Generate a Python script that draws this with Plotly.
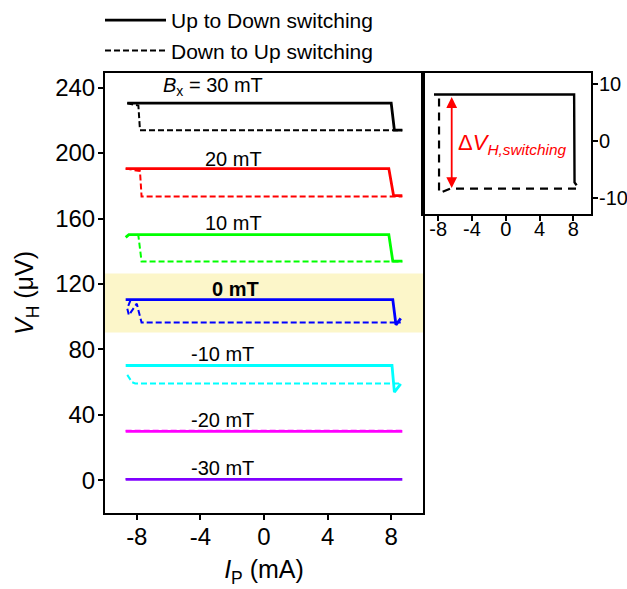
import plotly.graph_objects as go

W, H = 627, 589

# ---------------- data ----------------
fields = ["30", "20", "10", "0", "-10", "-20", "-30"]
colors = ["#000000", "#FF0000", "#00FF00", "#0000FF", "#00FFFF", "#FF00FF", "#8000FF"]

# Up-to-Down switching (solid)
solid_x = {
    "30": [-8.6, 8.0, 8.2, 8.7],
    "20": [-8.7, 7.85, 8.15, 8.7],
    "10": [-8.7, -8.5, 7.85, 8.1, 8.7],
    "0": [-8.7, 8.1, 8.3, 8.6],
    "-10": [-8.7, 8.05, 8.2, 8.6],
    "-20": [-8.7, 8.7],
    "-30": [-8.7, 8.7],
}
solid_y = {
    "30": [230.5, 230.5, 214.0, 214.0],
    "20": [190.5, 190.5, 174.0, 174.0],
    "10": [148.5, 150.2, 150.2, 134.0, 134.0],
    "0": [110.5, 110.5, 95.0, 99.0],
    "-10": [70.2, 70.2, 54.0, 59.0],
    "-20": [30.0, 30.0],
    "-30": [0.6, 0.6],
}
# Down-to-Up switching (dashed)
dash_x = {
    "30": [-8.6, -7.9, -7.8, 8.7],
    "20": [-8.7, -7.8, -7.7, 8.7],
    "10": [-8.0, -7.9, -7.7, 8.7],
    "0": [-8.4, -8.6, -8.5, -8.0, -7.9, -7.7, 8.6],
    "-10": [-8.6, -8.3, -8.1, 8.6],
    "-20": [-8.7, 8.7],
    "-30": [-8.7, 8.7],
}
dash_y = {
    "30": [230.5, 229.0, 214.0, 214.0],
    "20": [190.5, 189.0, 173.5, 173.5],
    "10": [150.2, 149.5, 133.7, 133.7],
    "0": [110.0, 105.0, 101.0, 108.0, 104.0, 96.5, 96.5],
    "-10": [64.5, 60.0, 59.2, 59.2],
    "-20": [30.3, 30.3],
    "-30": [0.8, 0.8],
}
label_text = {
    "30": "<i>B</i><sub>x</sub> = 30 mT",
    "20": "20 mT",
    "10": "10 mT",
    "0": "<b>0 mT</b>",
    "-10": "-10 mT",
    "-20": "-20 mT",
    "-30": "-30 mT",
}
label_x = {"30": -3.2, "20": -1.95, "10": -1.95, "0": -1.8, "-10": -2.6, "-20": -2.6, "-30": -2.6}
label_y = {"30": 240.5, "20": 196.6, "10": 157.0, "0": 117.0, "-10": 77.0, "-20": 36.6, "-30": 7.3}

highlight_band = [90.4, 126.4]

# inset (single 30 mT loop, zoomed)
inset_solid_x = [-8.5, 8.1, 8.15, 8.4]
inset_solid_y = [8.2, 8.2, -7.3, -7.8]
inset_dash_x = [-7.9, -7.9, -7.7, -6.6, 8.6]
inset_dash_y = [7.5, -9.1, -9.1, -8.4, -8.4]
arrow_x = -6.4
arrow_y = [8.0, -8.3]

main_xticks = [-8, -4, 0, 4, 8]
main_xticklabels = ["-8", "-4", "0", "4", "8"]
main_yticks = [0, 40, 80, 120, 160, 200, 240]
main_yticklabels = ["0", "40", "80", "120", "160", "200", "240"]
inset_xticks = [-8, -4, 0, 4, 8]
inset_xticklabels = ["-8", "-4", "0", "4", "8"]
inset_yticks = [-10, 0, 10]
inset_yticklabels = ["-10", "0", "10"]

FONT = "Arial, Liberation Sans, sans-serif"

fig = go.Figure()

for f, c in zip(fields, colors):
    fig.add_trace(go.Scatter(
        x=solid_x[f], y=solid_y[f], mode="lines",
        line=dict(color=c, width=2.8),
        name="Up to Down switching", legendgroup="a",
        showlegend=(f == "30"), xaxis="x", yaxis="y"))
    fig.add_trace(go.Scatter(
        x=dash_x[f], y=dash_y[f], mode="lines",
        line=dict(color=c, width=2.0, dash="6px,3px"),
        name="Down to Up switching", legendgroup="b",
        showlegend=(f == "30"), xaxis="x", yaxis="y"))

fig.add_trace(go.Scatter(x=inset_solid_x, y=inset_solid_y, mode="lines",
                         line=dict(color="black", width=2.4), showlegend=False,
                         xaxis="x2", yaxis="y2"))
fig.add_trace(go.Scatter(x=inset_dash_x, y=inset_dash_y, mode="lines",
                         line=dict(color="black", width=2.2, dash="8px,6px"), showlegend=False,
                         xaxis="x2", yaxis="y2"))

annotations = []
for f in fields:
    annotations.append(dict(x=label_x[f], y=label_y[f], xref="x", yref="y",
                            text=label_text[f], showarrow=False,
                            font=dict(size=20, color="black", family=FONT)))
# double-headed red arrow in the inset
annotations.append(dict(x=arrow_x, y=arrow_y[1], ax=arrow_x, ay=arrow_y[0],
                        xref="x2", yref="y2", axref="x2", ayref="y2",
                        text="", showarrow=True, arrowhead=2, startarrowhead=2,
                        arrowside="end+start", arrowsize=1.2, arrowwidth=1.8,
                        arrowcolor="#FF0000"))
annotations.append(dict(x=0.8, y=-0.6, xref="x2", yref="y2", showarrow=False,
                        text="Δ<i>V</i><sub><i>H,switching</i></sub>",
                        font=dict(size=22, color="#FF0000", family=FONT)))

x0, x1 = 105 / W, 423 / W
y0, y1 = 1 - 513 / H, 1 - 72 / H
ix0, ix1 = 423 / W, 591 / W
iy0, iy1 = 1 - 213 / H, 1 - 72 / H

axis_common = dict(showline=True, linecolor="black", linewidth=2, mirror=True,
                   ticks="outside", ticklen=5, tickwidth=1.5, tickcolor="black",
                   showgrid=False, zeroline=False)

fig.update_layout(
    width=W, height=H,
    margin=dict(l=0, r=0, t=0, b=0),
    paper_bgcolor="white", plot_bgcolor="white",
    font=dict(family=FONT, color="black"),
    xaxis=dict(domain=[x0, x1], range=[-10, 10], tickvals=main_xticks,
               ticktext=main_xticklabels, ticklabelstandoff=-4,
               tickfont=dict(size=24), anchor="y",
               title=dict(text="<i>I</i><sub>P</sub> (mA)", font=dict(size=25), standoff=12),
               **axis_common),
    yaxis=dict(domain=[y0, y1], range=[-20, 249], tickvals=main_yticks,
               ticktext=main_yticklabels, ticklabelstandoff=-2,
               tickfont=dict(size=24), anchor="x",
               title=dict(text="<i>V</i><sub>H</sub> (μV)", font=dict(size=25), standoff=14),
               **axis_common),
    xaxis2=dict(domain=[ix0, ix1], range=[-9.8, 10.1], tickvals=inset_xticks,
                ticktext=inset_xticklabels, ticklabelstandoff=-9,
                tickfont=dict(size=20), anchor="y2", **axis_common),
    yaxis2=dict(domain=[iy0, iy1], range=[-12.8, 12.0], tickvals=inset_yticks,
                ticktext=inset_yticklabels, ticklabelstandoff=-3,
                tickfont=dict(size=20), anchor="x2", side="right", **axis_common),
    shapes=[dict(type="rect", xref="x domain", yref="y", x0=0, x1=1,
                 y0=highlight_band[0], y1=highlight_band[1],
                 fillcolor="#FCF6C9", line=dict(width=0), layer="below")],
    annotations=annotations,
    showlegend=True,
    legend=dict(x=100 / W, y=1 + 1 / H, xanchor="left", yanchor="top",
                bgcolor="rgba(0,0,0,0)", font=dict(size=21),
                traceorder="grouped", tracegroupgap=0, itemwidth=61),
)

fig.write_html("out.html")
